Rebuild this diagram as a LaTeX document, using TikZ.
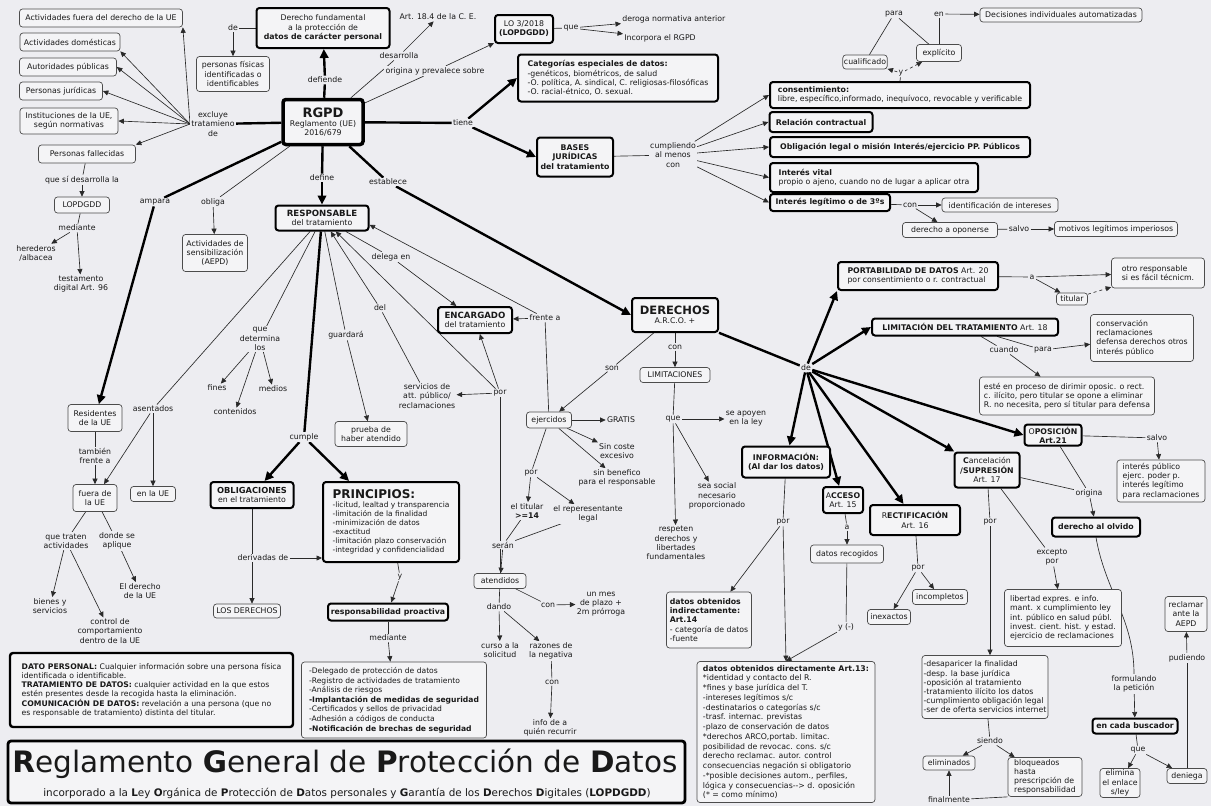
\documentclass[tikz,border=0pt]{standalone}
\usepackage{fontspec}
\setmainfont{DejaVu Sans}
\usetikzlibrary{arrows.meta,calc}
\pgfdeclarelayer{bg}
\pgfsetlayers{bg,main}
\definecolor{bgc}{HTML}{EDEDF1}
\definecolor{boxf}{HTML}{F4F4F6}
\definecolor{lnc}{HTML}{2A2A2A}
\tikzset{
 every node/.style={font=\fontsize{7.8}{9.2}\selectfont, inner sep=1.2pt, text=black!90},
 bx/.style={draw=black!70, line width=0.7pt, rounded corners=3pt, fill=boxf, align=center, inner sep=1.2pt},
 tb/.style={bx, draw=black, line width=2pt},
 lb/.style={align=center, inner sep=1.2pt, fill=bgc},
 sz/.style 2 args={minimum width=#1pt, minimum height=#2pt},
 ln/.style={draw=lnc, line width=0.65pt},
 ar/.style={ln, -{Triangle[length=5.5pt,width=5pt]}},
 tln/.style={draw=black, line width=2.4pt},
 tar/.style={tln, -{Triangle[length=9pt,width=8.5pt]}},
 da/.style={ar, dashed},
}
\begin{document}
\begin{tikzpicture}[x=1pt,y=-1pt]
\path[use as bounding box] (0,0) rectangle (1211,806);
% ---------- top left
\node[bx,sz={163}{18}] (act1) at (101,18) {Actividades fuera del derecho de la UE};
\node[bx,sz={100}{18}] (act2) at (70,42) {Actividades domésticas};
\node[bx,sz={97}{18}] (act3) at (68,67) {Autoridades públicas};
\node[bx,sz={83}{18}] (act4) at (61,91) {Personas jurídicas};
\node[bx,sz={98}{26}] (act5) at (69,121) {Instituciones de la UE,\\según normativas};
\node[bx,sz={97}{18}] (act6) at (87,154) {Personas fallecidas};
\node[lb] (excl) at (213,124) {excluye\\tratamieno\\de};
\node[lb] (quesi) at (82,180) {que sí desarrolla la};
\node[bx,sz={55}{16}] (lopd) at (82,205) {LOPDGDD};
\node[lb] (med1) at (77,228) {mediante};
\node[lb] (here) at (36,253) {herederos\\/albacea};
\node[lb] (testa) at (81,284) {testamento\\digital Art. 96};
% ---------- RGPD
\node[tb,sz={133}{40}] (der) at (323,28) {Derecho fundamental\\a la protección de\\\textbf{datos de carácter personal}};
\node[lb] (de1) at (233,28) {de};
\node[bx,sz={73}{35}] (pfis) at (233,74) {personas físicas\\identificadas o\\identificables};
\node[tb,line width=3.5pt,sz={80}{45}] (rgpd) at (323,122) {{\fontsize{13}{14}\selectfont\bfseries RGPD}\\Reglamento (UE)\\2016/679};
\node[lb] (defi) at (325,80) {defiende};
\node[lb] (art) at (438,17) {Art. 18.4 de la C. E.};
\node[lb] (desa) at (399,56) {desarrolla};
\node[lb] (orig) at (435,71) {origina y prevalece sobre};
\node[tb,sz={58}{28}] (lo3) at (524,29) {LO 3/2018\\\textbf{(LOPDGDD)}};
\node[lb] (que1) at (571,28) {que};
\node[lb,anchor=west] (derog) at (621,19) {deroga normativa anterior};
\node[lb,anchor=west] (incorp) at (623,38) {Incorpora el RGPD};
\node[lb] (tiene) at (463,123) {tiene};
\node[tb,sz={200}{47},align=left] (cat) at (618,78) {\textbf{Categorías especiales de datos:}\\-genéticos, biométricos, de salud\\-O. política, A. sindical, C. religiosas-filosóficas\\-O. racial-étnico, O. sexual.};
\node[tb,sz={76}{39}] (bases) at (575,157) {\textbf{BASES}\\\textbf{JURÍDICAS}\\\textbf{del tratamiento}};
\node[lb] (cump) at (673,155) {cumpliendo\\al menos\\con};
\node[tb,sz={260}{26},align=left] (cons) at (900,95) {\textbf{consentimiento:}\\libre, específico,informado, inequívoco, revocable y verificable};
\node[tb,sz={103}{20}] (rel) at (821,122) {\textbf{Relación contractual}};
\node[tb,sz={260}{20}] (obl) at (900,147) {\textbf{Obligación legal o misión Interés/ejercicio PP. Públicos}};
\node[tb,sz={208}{29},align=left] (vital) at (874,177.5) {\textbf{Interés vital}\\propio o ajeno, cuando no de lugar a aplicar otra};
\node[tb,sz={120}{17}] (legit) at (830,202.5) {\textbf{Interés legítimo o de 3ºs}};
\node[lb] (con1) at (910,205) {con};
\node[bx,sz={116}{14}] (ident) at (1000,205) {identificación de intereses};
\node[bx,sz={95}{15}] (deropo) at (950,230) {derecho a oponerse};
\node[lb] (salvo1) at (1019,229) {salvo};
\node[bx,sz={123}{15}] (motiv) at (1116,229) {motivos legítimos imperiosos};
\node[lb] (para1) at (894,14) {para};
\node[lb] (en1) at (939,14) {en};
\node[bx,sz={162}{14}] (decis) at (1061,15) {Decisiones individuales automatizadas};
\node[bx,sz={40}{14}] (cualif) at (865,62) {cualificado};
\node[bx,sz={45}{17}] (explic) at (939,53) {explícito};
\node[lb] (y1) at (901,73) {y};
% ---------- RESPONSABLE
\node[tb,sz={93}{25}] (resp) at (322,218) {{\fontsize{8.6}{9.5}\selectfont\bfseries RESPONSABLE}\\del tratamiento};
\node[lb] (define) at (322,178) {define};
\node[lb] (estab) at (388,182) {establece};
\node[lb] (ampara) at (155,202) {ampara};
\node[lb] (obliga) at (213,202) {obliga};
\node[bx,sz={65}{37}] (sensib) at (215,253) {Actividades de\\sensibilización\\(AEPD)};
\node[bx,sz={54}{27}] (resid) at (95,418) {Residentes\\de la UE};
\node[lb] (tamb) at (95,456) {también\\frente a};
\node[bx,sz={44}{27}] (fuera) at (95,498) {fuera de\\la UE};
\node[lb] (asent) at (153,409) {asentados};
\node[bx,sz={45}{15}] (enue) at (153,494) {en la UE};
\node[lb] (qdet) at (260,339) {que\\determina\\los};
\node[lb] (fines) at (217,388) {fines};
\node[lb] (medios) at (273,389) {medios};
\node[lb] (conten) at (235,412) {contenidos};
\node[lb] (cumple) at (304,437) {cumple};
\node[tb,sz={83}{26}] (oblig) at (252,495) {{\fontsize{8.3}{9.5}\selectfont\bfseries OBLIGACIONES}\\en el tratamiento};
\node[tb,sz={136}{80},align=left,font=\fontsize{7.5}{9}\selectfont] (princ) at (391,522) {{\fontsize{12}{13}\selectfont\bfseries PRINCIPIOS:}\\-licitud, lealtad y transparencia\\-limitación de la finalidad\\-minimización de datos\\-exactitud\\-limitación plazo conservación\\-integridad y confidencialidad};
\node[lb] (deriv) at (263,558) {derivadas de};
\node[bx,sz={67}{14}] (losder) at (247,611) {LOS DERECHOS};
\node[lb] (y2) at (400,577) {y};
\node[tb,sz={120}{17}] (proact) at (388,612) {\textbf{responsabilidad proactiva}};
\node[lb] (med2) at (388,638) {mediante};
\node[bx,sz={185}{76},align=left,font=\fontsize{7.6}{9.6}\selectfont] (medlist) at (394,700) {-Delegado de protección de datos\\-Registro de actividades de tratamiento\\-Análisis de riesgos\\\textbf{-Implantación de medidas de seguridad}\\-Certificados y sellos de privacidad\\-Adhesión a códigos de conducta\\\textbf{-Notificación de brechas de seguridad}};
\node[lb] (guard) at (346,335) {guardará};
\node[bx,sz={72}{25}] (prueba) at (371,434) {prueba de\\haber atendido};
\node[lb] (del) at (380,308) {del};
\node[lb] (serv) at (427,396) {servicios de\\att. público/\\reclamaciones};
\node[lb] (por1) at (500,393) {por};
\node[tb,sz={74}{26}] (encarg) at (475,320) {{\fontsize{8.6}{9.5}\selectfont\bfseries ENCARGADO}\\del tratamiento};
\node[lb] (delega) at (391,257) {delega en};
\node[lb] (frente) at (545,318) {frente a};
% ---------- DERECHOS
\node[tb,sz={86}{34}] (derechos) at (675,315) {{\fontsize{11.5}{12.5}\selectfont\bfseries DERECHOS}\\A.R.C.O. +};
\node[lb] (son) at (612,368) {son};
\node[lb] (con2) at (675,347) {con};
\node[bx,sz={70}{15}] (limit) at (675,375) {LIMITACIONES};
\node[lb] (que2) at (673,419) {que};
\node[lb] (apoyen) at (746,419) {se apoyen\\en la ley};
\node[lb] (social) at (717,496) {sea social\\necesario\\proporcionado};
\node[lb] (respet) at (676,543) {respeten\\derechos y\\libertades\\fundamentales};
\node[bx,sz={45}{16}] (ejerc) at (549,420) {ejercidos};
\node[lb] (gratis) at (621,420) {GRATIS};
\node[lb] (sincoste) at (617,451) {Sin coste\\excesivo};
\node[lb] (sinben) at (617,478) {sin benefico\\para el responsable};
\node[lb] (por2) at (531,473) {por};
\node[lb] (titular) at (527,511) {el titular\\\textbf{>=14}};
\node[lb] (repres) at (588,514) {el reperesentante\\legal};
\node[lb] (seran) at (503,545) {serán};
\node[bx,sz={52}{15}] (atend) at (500,581) {atendidos};
\node[lb] (con4) at (548,605) {con};
\node[lb] (unmes) at (601,604) {un mes\\de plazo +\\2m prórroga};
\node[lb] (dando) at (499,607) {dando};
\node[lb] (curso) at (500,650) {curso a la\\solicitud};
\node[lb] (razon) at (551,651) {razones de\\la negativa};
\node[lb] (con5) at (552,682) {con};
\node[lb] (info) at (550,728) {info de a\\quién recurrir};
% ---------- right cluster
\node[lb] (de2) at (806,368) {de};
\node[tb,sz={160}{28},align=left] (port) at (918,276) {\textbf{PORTABILIDAD DE DATOS} Art. 20\\por consentimiento o r. contractual};
\node[lb] (a1) at (1032,277) {a};
\node[bx,sz={93}{30},align=left] (otro) at (1158,273) {otro responsable\\si es fácil técnicm.};
\node[bx,sz={31}{12}] (titbox) at (1072,299) {titular};
\node[tb,sz={186}{17}] (limtrat) at (965,327) {\textbf{LIMITACIÓN DEL TRATAMIENTO} Art. 18};
\node[lb] (cuando) at (1004,350) {cuando};
\node[lb] (para2) at (1043,350) {para};
\node[bx,sz={103}{47},align=left] (conserv) at (1142,338) {conservación\\reclamaciones\\defensa derechos otros\\interés público};
\node[bx,sz={175}{38},align=left] (este) at (1067,396) {esté en proceso de dirimir oposic. o rect.\\c. ilícito, pero titular se opone a eliminar\\R. no necesita, pero sí titular para defensa};
\node[tb,sz={57}{21}] (oposic) at (1053,435) {O\textbf{POSICIÓN}\\\textbf{Art.21}};
\node[lb] (salvo2) at (1157,438) {salvo};
\node[bx,sz={88}{42},align=left] (intpub) at (1161,481) {interés público\\ejerc. poder p.\\interés legítimo\\para reclamaciones};
\node[tb,sz={65}{35}] (cancel) at (987,470) {\textbf{C}ancelación\\\textbf{/SUPRESIÓN}\\Art. 17};
\node[lb] (orig2) at (1089,493) {origina};
\node[tb,sz={88}{19}] (olvido) at (1096,527) {\textbf{derecho al olvido}};
\node[tb,sz={90}{30}] (rectif) at (915,520) {R\textbf{ECTIFICACIÓN}\\Art. 16};
\node[tb,sz={40}{26}] (acceso) at (843,500) {A\textbf{CCESO}\\Art. 15};
\node[tb,sz={88}{31}] (inform) at (786,462) {\textbf{INFORMACIÓN:}\\\textbf{(Al dar los datos)}};
\node[lb] (por3) at (783,522) {por};
\node[lb] (a2) at (847,527) {a};
\node[bx,sz={73}{18}] (recog) at (847,554) {datos recogidos};
\node[lb] (ymin) at (846,627) {y (-)};
\node[bx,sz={85}{56},align=left] (indir) at (709,620) {\textbf{datos obtenidos}\\\textbf{indirectamente:}\\\textbf{Art.14}\\- categoría de datos\\-fuente};
\node[bx,sz={178}{141},align=left,font=\fontsize{7.8}{9.75}\selectfont] (direct) at (786,732) {\textbf{datos obtenidos directamente Art.13:}\\{}*identidad y contacto del R.\\{}*fines y base jurídica del T.\\-intereses legítimos s/c\\-destinatarios o categorías s/c\\-trasf. internac. previstas\\-plazo de conservación de datos\\{}*derechos ARCO,portab. limitac.\\posibilidad de revocac. cons. s/c\\derecho reclamac. autor. control\\consecuencias negación si obligatorio\\-*posible decisiones autom., perfiles,\\lógica y consecuencias-{}-> d. oposición\\(* = como mínimo)};
\node[lb] (por4) at (918,568) {por};
\node[bx,sz={43}{15}] (inexact) at (889,617) {inexactos};
\node[bx,sz={55}{15}] (incompl) at (940,597) {incompletos};
\node[lb] (por5) at (990,522) {por};
\node[bx,sz={126}{63},align=left] (desap) at (985,687) {-desaparicer la finalidad\\-desp. la base jurídica\\-oposición al tratamiento\\-tratamiento ilícito los datos\\-cumplimiento obligación legal\\-ser de oferta servicios internet};
\node[lb] (excep) at (1052,557) {excepto\\por};
\node[bx,sz={117}{57},align=left] (libert) at (1063,618) {libertad expres. e info.\\mant. x cumplimiento ley\\int. público en salud públ.\\invest. cient. hist. y estad.\\ejercicio de reclamaciones};
\node[lb] (siendo) at (990,741) {siendo};
\node[bx,sz={52}{14}] (elim) at (949,763) {eliminados};
\node[bx,sz={74}{39},align=left] (bloq) at (1045,777) {bloqueados\\hasta\\prescripción de\\responsabilidad};
\node[lb] (final) at (949,800) {finalmente};
\node[lb] (formul) at (1134,684) {formulando\\la petición};
\node[tb,sz={85}{15}] (busc) at (1135,726) {\textbf{en cada buscador}};
\node[lb] (que3) at (1138,750) {que};
\node[bx,sz={40}{29}] (elimen) at (1120,783) {elimina\\el enlace\\s/ley};
\node[bx,sz={40}{15}] (deniega) at (1187,776) {deniega};
\node[lb] (pud) at (1187,658) {pudiendo};
\node[bx,sz={42}{35}] (reclam) at (1186,614) {reclamar\\ante la\\AEPD};
% ---------- bottom left
\node[lb] (quetrat) at (66,541) {que traten\\actividades};
\node[lb] (donde) at (117,541) {donde se\\aplique};
\node[lb] (bienes) at (50,606) {bienes y\\servicios};
\node[lb] (control) at (110,631) {control de\\comportamiento\\dentro de la UE};
\node[lb] (elder) at (140,591) {El derecho\\de la UE};
\node[tb,line width=2.4pt,sz={283}{74},align=left,inner sep=4pt,font=\fontsize{7.7}{9.2}\selectfont] (defs) at (151.5,690) {\textbf{DATO PERSONAL:} Cualquier información sobre una persona física\\identificada o identificable.\\\textbf{TRATAMIENTO DE DATOS:} cualquier actividad en la que estos\\estén presentes desde la recogida hasta la eliminación.\\\textbf{COMUNICACIÓN DE DATOS:} revelación a una persona (que no\\es responsable de tratamiento) distinta del titular.};
\node[tb,line width=2.8pt,sz={677}{62}] (tbox) at (346.5,772) {};
\node[anchor=base,inner sep=0pt] (ttl) at (345,772) {\fontsize{29.5}{31}\selectfont\textbf{R}eglamento \textbf{G}eneral de \textbf{P}rotección de \textbf{D}atos};
\node[anchor=base,inner sep=0pt] (sub) at (347,796) {\fontsize{10.4}{11}\selectfont incorporado a la \textbf{L}ey \textbf{O}rgánica de \textbf{P}rotección de \textbf{D}atos personales y \textbf{G}arantía de los \textbf{D}erechos \textbf{D}igitales (\textbf{LOPDGDD})};
% ================= connectors
\begin{pgfonlayer}{bg}
\fill[bgc] (0,0) rectangle (1211,806);
\draw[tln] (rgpd) -- (excl);
\draw[ar] (excl.west) -- (act1.south east);
\draw[ar] (excl.west) -- (act2.south east);
\draw[ar] (excl.west) -- (act3.east);
\draw[ar] (excl.west) -- (act4.east);
\draw[ar] (excl.west) -- (act5.east);
\draw[ar] (excl.west) -- (act6.north east);
\draw[ln] (act6) -- (quesi); \draw[ar] (quesi) -- (lopd);
\draw[ln] (lopd) -- (med1); \draw[ar] (med1) -- (here); \draw[ar] (med1) -- (testa);
\draw[ln] (der.west) -- (de1); \draw[ar] (de1) -- (pfis);
\draw[tln] (rgpd) -- (defi); \draw[tar] (defi) -- (der);
\draw[ln] (rgpd) -- (desa); \draw[ar] (desa) -- (art);
\draw[ln] (rgpd) -- (orig); \draw[ar] (orig) -- (lo3);
\draw[ln] (lo3) -- (que1); \draw[ar] (que1) -- (derog); \draw[ar] (que1) -- (incorp);
\draw[tln] (rgpd) -- (tiene); \draw[tar] (tiene) -- (cat.west); \draw[tar] (tiene) -- (bases.west);
\draw[ln] (bases) -- (cump);
\draw[ar] (cump) -- (cons.west); \draw[ar] (cump) -- (rel.west); \draw[ar] (cump) -- (obl.west);
\draw[ar] (cump) -- (vital.west); \draw[ar] (cump) -- (legit.west);
\draw[ln] (cons.north) -- (y1); \draw[da] (y1) -- (cualif); \draw[da] (y1) -- (explic);
\draw[ln] (cualif) -- (para1); \draw[ln] (para1) -- (explic); \draw[ln] (explic) -- (en1); \draw[ar] (en1) -- (decis);
\draw[ln] (legit) -- (con1); \draw[ar] (con1) -- (ident); \draw[ar] (con1) -- (deropo);
\draw[ln] (deropo) -- (salvo1); \draw[ar] (salvo1) -- (motiv);
\draw[tln] (rgpd) -- (define); \draw[tar] (define) -- (resp);
\draw[tln] (rgpd) -- (estab); \draw[tar] (estab) -- (derechos.west);
\draw[tln] (rgpd) -- (ampara); \draw[tar] (ampara) -- (resid);
\draw[ln] (rgpd) -- (obliga); \draw[ar] (obliga) -- (sensib);
\draw[ln] (resid) -- (tamb); \draw[ar] (tamb) -- (fuera);
\draw[ln] (resp) -- (asent); \draw[ar] (asent) -- (fuera); \draw[ar] (asent) -- (enue);
\draw[ln] (resp) -- (qdet); \draw[ar] (qdet) -- (fines); \draw[ar] (qdet) -- (medios); \draw[ar] (qdet) -- (conten);
\draw[tln] (resp) -- (cumple); \draw[tar] (cumple) -- (oblig); \draw[tar] (cumple) -- (princ);
\draw[ln] (oblig.south) -- (oblig.south |- deriv.north);
\draw[ar] (oblig.south |- deriv.south) -- (oblig.south |- losder.north);
\draw[ar] (deriv.east) -- (deriv.east -| princ.west);
\draw[ln] (princ) -- (y2); \draw[ar] (y2) -- (proact);
\draw[ln] (proact) -- (med2); \draw[ar] (med2) -- (medlist);
\draw[ln] (resp) -- (guard); \draw[ar] (guard) -- (prueba);
\draw[ln] (serv) -- (del); \draw[ar] (del) -- (resp);
\draw[ar] (por1) -- (serv); \draw[ar] (por1) -- (resp); \draw[ar] (por1) -- (encarg);
\draw[ln] (atend) -- (por1);
\draw[ln] (resp) -- (delega); \draw[ar] (delega) -- (encarg);
\draw[ar] (frente) -- (encarg); \draw[ar] (frente) -- ($(resp.east)!0.5!(resp.south east)$);
\draw[ln] (ejerc) -- (frente);
\draw[ln] (derechos) -- (son); \draw[ar] (son) -- (ejerc);
\draw[ln] (derechos) -- (con2); \draw[ar] (con2) -- (limit);
\draw[ln] (limit) -- (que2); \draw[ar] (que2) -- (apoyen); \draw[ar] (que2) -- (social); \draw[ar] (que2) -- (respet);
\draw[ar] (ejerc) -- (gratis); \draw[ar] (ejerc) -- (sincoste); \draw[ar] (ejerc) -- (sinben);
\draw[ln] (ejerc) -- (por2); \draw[ar] (por2) -- (titular); \draw[ar] (por2) -- (repres);
\draw[ln] (titular) -- (seran); \draw[ln] (repres) -- (seran); \draw[ar] (seran) -- (atend);
\draw[ln] (atend) -- (con4); \draw[ar] (con4) -- (unmes);
\draw[ln] (atend) -- (dando); \draw[ar] (dando) -- (curso); \draw[ar] (dando) -- (razon);
\draw[ln] (razon) -- (con5); \draw[ar] (con5) -- (info);
\draw[tln] (derechos) -- (de2);
\draw[tar] (de2) -- (port.south west); \draw[tar] (de2) -- (limtrat.west); \draw[tar] (de2) -- (inform);
\draw[tar] (de2) -- (acceso); \draw[tar] (de2) -- (rectif); \draw[tar] (de2) -- (cancel); \draw[tar] (de2) -- (oposic.west);
\draw[ln] (port) -- (a1); \draw[ar] (a1) -- (otro); \draw[ar] (a1) -- (titbox); \draw[da] (titbox) -- (otro);
\draw[ln] (limtrat) -- (cuando); \draw[ar] (cuando) -- (este);
\draw[ln] (limtrat) -- (para2); \draw[ar] (para2) -- (conserv);
\draw[ln] (oposic) -- (salvo2); \draw[ar] (salvo2) -- (intpub);
\draw[ln] (oposic) -- (orig2); \draw[ln] (cancel) -- (orig2); \draw[ar] (orig2) -- (olvido);
\draw[ln] (inform) -- (por3); \draw[ar] (por3) -- (indir); \draw[ar] (por3) -- (direct.north);
\draw[ln] (acceso) -- (a2); \draw[ar] (a2) -- (recog);
\draw[ln] (recog) -- (ymin); \draw[ar] (ymin) -- (direct.north);
\draw[ln] (rectif) -- (por4); \draw[ar] (por4) -- (inexact); \draw[ar] (por4) -- (incompl);
\draw[ln] (cancel) -- (por5); \draw[ar] (por5) -- (por5 |- desap.north);
\draw[ln] (cancel) -- (excep); \draw[ar] (excep) -- (libert);
\draw[ln] (desap) -- (siendo); \draw[ar] (siendo) -- (elim); \draw[ar] (siendo) -- (bloq);
\draw[ln] (bloq.south west) -- (final); \draw[ar] (final) -- (elim);
\draw[ln] (olvido.south) to[out=-80,in=90] (formul.north);
\draw[ar] (formul) -- (busc);
\draw[ln] (busc) -- (que3); \draw[ar] (que3) -- (elimen); \draw[ar] (que3) -- (deniega);
\draw[ln] (deniega) -- (pud); \draw[ar] (pud) -- (reclam);
\draw[ln] (fuera) -- (quetrat); \draw[ln] (fuera) -- (donde);
\draw[ar] (quetrat) -- (bienes); \draw[ar] (quetrat) -- (control); \draw[ar] (donde) -- (elder);
\end{pgfonlayer}
\end{tikzpicture}
\end{document}
